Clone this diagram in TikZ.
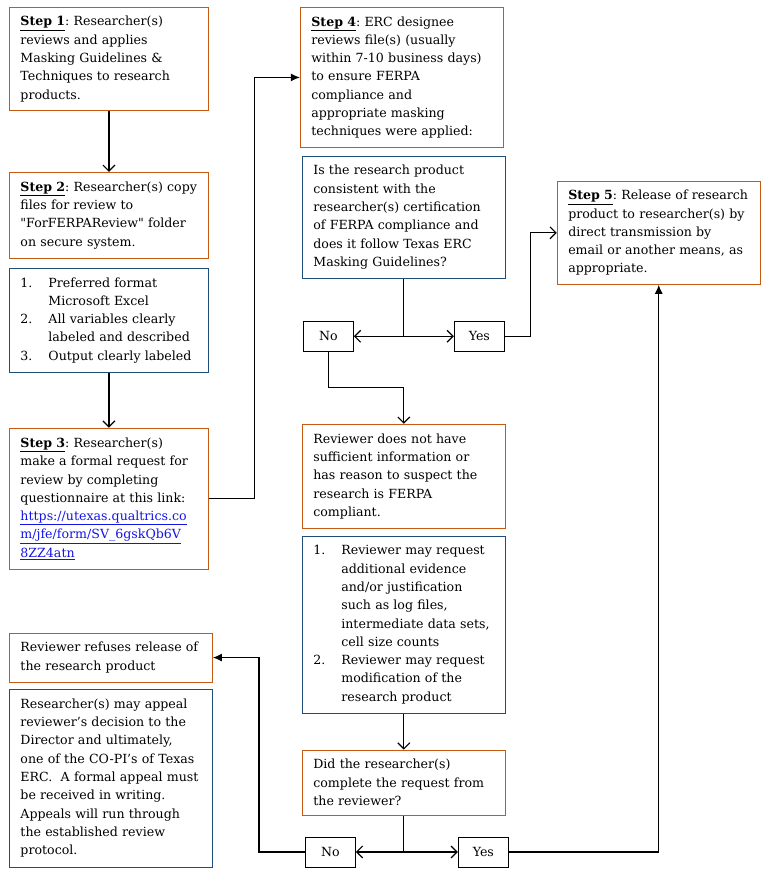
\documentclass[tikz,border=0pt]{standalone}
\usepackage{fontspec}
\setmainfont{DejaVu Serif}
\usetikzlibrary{arrows.meta, positioning, calc}

\definecolor{stepbrown}{RGB}{197,90,17}
\definecolor{listblue}{RGB}{31,78,121}
\definecolor{linkblue}{RGB}{20,20,230}

\frenchspacing
\newcommand{\steplabel}[1]{\underline{\textbf{Step #1}}}
\newcommand{\itemnum}[1]{\makebox[28pt][l]{#1}}
\newcommand{\itemgap}{\hspace*{28pt}}
\newcommand{\weblink}[1]{{\color{linkblue}\underline{#1}}}

\begin{document}
\begin{tikzpicture} [x=1pt, y=1pt,
  box/.style = {draw, line width=0.9pt, align=left, inner xsep=11pt, inner ysep=4pt,
    text width=181pt, font=\fontsize{12.6}{18.3}\selectfont},
  stepbox/.style = {box, draw=stepbrown},
  listbox/.style = {box, draw=listblue},
  answer/.style = {draw, line width=0.9pt, minimum width=50pt, minimum height=30pt,
    inner sep=0pt, font=\fontsize{12.6}{18.3}\selectfont},
  link/.style = {line width=1.2pt},
  openhead/.style = {link, -{Straight Barb[length=6pt, width=12pt]}},
  fillhead/.style = {link, -{Latex[length=9pt, width=8pt]}}]

\useasboundingbox (0,0) rectangle (767,-878);

% researcher side
\node (step1) [stepbox, text width=177pt, minimum height=103pt, anchor=north west] at (9,-7)
  {\steplabel{1}: Researcher(s)\\ reviews and applies\\ Masking Guidelines \&\\ Techniques to research\\ products.};
\node (step2) [stepbox, text width=177pt, minimum height=86pt, below = 61pt of step1]
  {\mbox{\steplabel{2}: Researcher(s) copy}\\ files for review to\\ \textquotedbl ForFERPAReview\textquotedbl{} folder\\ on secure system.};
\node (list1) [listbox, text width=177pt, minimum height=104pt, below = 9pt of step2]
  {\itemnum{1.}Preferred format\\ \itemgap Microsoft Excel\\ \itemnum{2.}All variables clearly\\
   \itemgap labeled and described\\ \itemnum{3.}Output clearly labeled};
\node (step3) [stepbox, text width=177pt, minimum height=141pt, below = 55pt of list1]
  {\steplabel{3}: Researcher(s)\\ make a formal request for\\ review by completing\\ questionnaire at this link:\\
   \weblink{https://utexas.qualtrics.co}\\ \weblink{m/jfe/form/SV\_6gskQb6V}\\ \weblink{8ZZ4atn}};

% review
\node (step4) [stepbox, minimum height=140pt, below right = 0pt and 91pt of step1.north east]
  {\steplabel{4}: ERC designee\\ reviews file(s) (usually\\ within 7-10 business days)\\ to ensure FERPA\\
   compliance and\\ appropriate masking\\ techniques were applied:};
\node (question) [listbox, minimum height=122pt, below = 8pt of step4, xshift=2pt]
  {Is the research product\\ consistent with the\\ researcher(s) certification\\ of FERPA compliance and\\
   does it follow Texas ERC\\ Masking Guidelines?};
\node (step5) [stepbox, minimum height=103pt, below right = 25pt and 51pt of question.north east]
  {\steplabel{5}: Release of research\\ \mbox{product to researcher(s) by}\\ direct transmission by\\
   email or another means, as\\ appropriate.};
\node (no1) [answer, below right = 42pt and 1pt of question.south west] {No};
\node (yes1) [answer, below left = 42pt and 1pt of question.south east] {Yes};

% not compliant
\node (reviewer) [stepbox, minimum height=104pt, below = 145pt of question]
  {Reviewer does not have\\ sufficient information or\\ has reason to suspect the\\ research is FERPA\\ compliant.};
\node (list2) [listbox, minimum height=177pt, below = 7pt of reviewer]
  {\itemnum{1.}Reviewer may request\\ \itemgap additional evidence\\ \itemgap and/or justification\\
   \itemgap such as log files,\\ \itemgap intermediate data sets,\\ \itemgap cell size counts\\
   \itemnum{2.}Reviewer may request\\ \itemgap modification of the\\ \itemgap research product};
\node (did) [stepbox, minimum height=65pt, below = 36pt of list2]
  {Did the researcher(s)\\ complete the request from\\ the reviewer?};
\node (no2) [answer, below right = 21pt and 3pt of did.south west] {No};
\node (yes2) [answer, below left = 21pt and -3pt of did.south east] {Yes};

% refusal
\node (refuses) [stepbox, minimum height=49pt, below = 63pt of step3, xshift=2pt]
  {Reviewer refuses release of\\ the research product};
\node (appeal) [listbox, minimum height=178pt, below = 6pt of refuses]
  {Researcher(s) may appeal\\ reviewer’s decision to the\\ Director and ultimately,\\ one of the CO-PI’s of Texas\\
   ERC.\ \ A formal appeal must\\ be received in writing.\\ Appeals will run through\\ the established review\\ protocol.};

% steps 1 to 4
\draw [openhead] (step1) -- (step2);
\draw [openhead] (list1) -- (step3);
\draw [fillhead] (step3.east) -| ($(step3.east)!0.5!(step4.west)$) |- (step4.west);

% first check
\coordinate (split1) at (question.south |- no1.east);
\draw [link] (question.south) -- (split1);
\draw [openhead] (split1) -- (no1.east);
\draw [openhead] (split1) -- (yes1.west);
\draw [openhead] (yes1.east) -| ($(yes1.east)!0.5!(step5.west)$) |- (step5.west);
\draw [openhead] (no1.south) |- ($(no1.south)!0.5!(reviewer.north)$) -| (reviewer.north);

% second check
\draw [openhead] (list2) -- (did);
\coordinate (split2) at (did.south |- no2.east);
\draw [link] (did.south) -- (split2);
\draw [openhead] (split2) -- (no2.east);
\draw [openhead] (split2) -- (yes2.west);
\draw [fillhead] (yes2.east) -| (step5.south);
\draw [fillhead] (no2.west) -| ($(no2.west)!0.5!(refuses.east)$) |- (refuses.east);

\end{tikzpicture}
\end{document}
